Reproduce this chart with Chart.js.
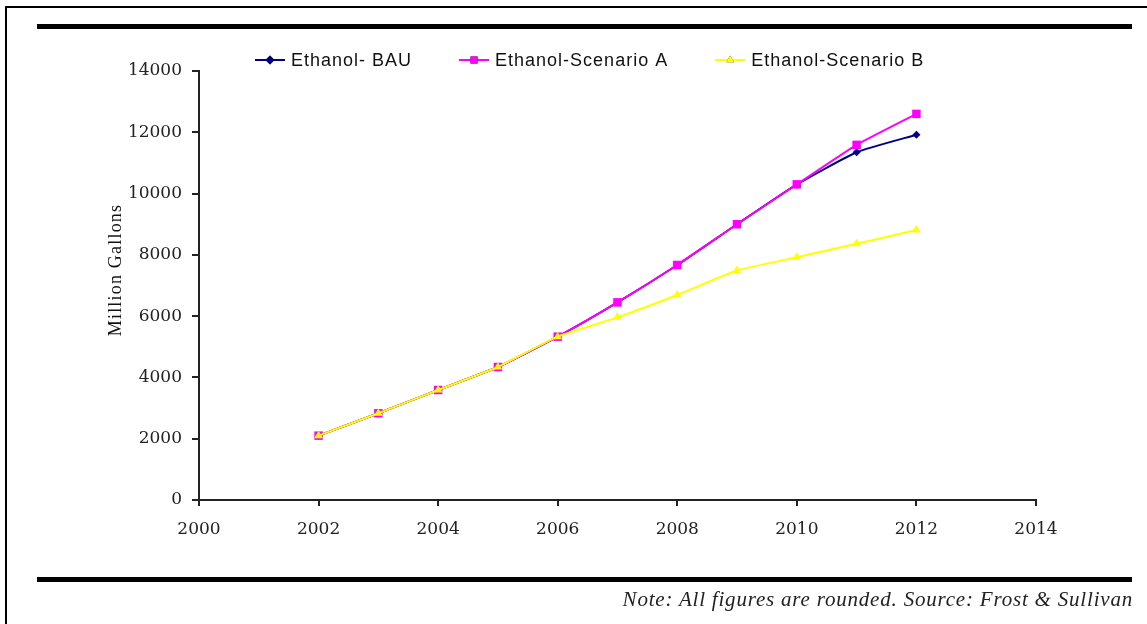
<!DOCTYPE html>
<html>
<head>
<meta charset="utf-8">
<script src="https://cdn.jsdelivr.net/npm/chart.js@4/dist/chart.umd.min.js"></script>
<style>
  html, body { margin: 0; padding: 0; background: #fff; }
  #wrap { position: relative; width: 1147px; height: 624px; overflow: hidden; }
  #frame { position: absolute; left: 5px; top: 6px; right: -10px; bottom: -10px;
           border-left: 2px solid #000; border-top: 2px solid #000; }
  .rule { position: absolute; left: 37px; width: 1095px; height: 5px; background: #000; }
  #note { position: absolute; right: 14px; top: 587px; font-family: "Liberation Serif", serif;
          font-style: italic; font-size: 21px; letter-spacing: 0.8px; line-height: 24px;
          color: #222; white-space: nowrap; }
  canvas { position: absolute; left: 0; top: 0; }
</style>
</head>
<body>
<div id="wrap">
  <div id="frame"></div>
  <div class="rule" style="top:24px"></div>
  <div class="rule" style="top:577px"></div>
  <canvas id="c" width="1147" height="624"></canvas>
  <div id="note">Note: All figures are rounded. Source: Frost &amp; Sullivan</div>
</div>
<script>
// Years and ethanol production (million gallons) under three outlooks
const years = [2002, 2003, 2004, 2005, 2006, 2007, 2008, 2009, 2010, 2011, 2012];
const bau       = [2100, 2830, 3590, 4340, 5330, 6450, 7670, 9000, 10300, 11350, 11920];
const scenarioA = [2100, 2830, 3590, 4340, 5330, 6450, 7670, 9000, 10300, 11590, 12600];
const scenarioB = [2100, 2830, 3590, 4340, 5330, 5960, 6690, 7490, 7920, 8360, 8810];

const seriesNames  = ["Ethanol- BAU", "Ethanol-Scenario A", "Ethanol-Scenario B"];
const seriesColors = ["#000080", "#FF00FF", "#FFFF00"];
const seriesPoints = ["rectRot", "rect", "triangle"];
const seriesRadius = [4, 6, 5];

const xTicks = { min: 2000, max: 2014, step: 2 };
const yTicks = { min: 0, max: 14000, step: 2000 };
const yTitle = "Million Gallons";

const toPoints = vals => vals.map((v, i) => ({ x: years[i], y: v }));
const seriesValues = [bau, scenarioA, scenarioB];

const datasets = seriesValues.map((vals, i) => ({
  label: seriesNames[i],
  data: toPoints(vals),
  borderColor: seriesColors[i],
  backgroundColor: seriesColors[i],
  pointStyle: seriesPoints[i],
  pointRadius: seriesRadius[i],
  pointHoverRadius: seriesRadius[i],
  pointBorderWidth: 0,
  borderWidth: 2,
  tension: 0.15,
  order: 3 - i
}));

// Legend row and rotated y-axis caption drawn on the canvas
const extras = {
  id: 'extras',
  afterDraw(chart) {
    const ctx = chart.ctx;
    ctx.save();
    ctx.font = '18px "Liberation Sans", Arial, sans-serif';
    ctx.letterSpacing = '1px';
    ctx.textBaseline = 'middle';
    let x = 255;
    const y = 60;
    seriesNames.forEach((name, i) => {
      ctx.strokeStyle = seriesColors[i];
      ctx.lineWidth = 2;
      ctx.beginPath();
      ctx.moveTo(x, y); ctx.lineTo(x + 30, y);
      ctx.stroke();
      Chart.helpers.drawPoint(ctx, {
        pointStyle: seriesPoints[i], radius: i === 1 ? 5 : 4.5, borderWidth: 0
      }, x + 15, y);
      ctx.fillStyle = seriesColors[i];
      ctx.fill();
      ctx.fillStyle = '#111';
      ctx.textAlign = 'left';
      ctx.fillText(name, x + 36, y + 1);
      x += 36 + ctx.measureText(name).width + 47;
    });
    ctx.translate(116, 270);
    ctx.rotate(-Math.PI / 2);
    ctx.textAlign = 'center';
    ctx.font = '18px "Liberation Serif", serif';
    ctx.letterSpacing = '1.2px';
    ctx.fillStyle = '#111';
    ctx.fillText(yTitle, 0, 0);
    ctx.restore();
  }
};

const tickFont = { family: '"DejaVu Serif", serif', size: 17 };

new Chart(document.getElementById('c'), {
  type: 'line',
  data: { datasets },
  plugins: [extras],
  options: {
    responsive: false,
    animation: false,
    layout: { padding: { top: 71, right: 111, left: 0, bottom: 0 } },
    plugins: { legend: { display: false }, tooltip: { enabled: false } },
    scales: {
      x: {
        type: 'linear',
        min: xTicks.min, max: xTicks.max,
        afterFit: s => { s.height = 124; },
        border: { color: '#222', width: 2 },
        grid: { display: true, drawOnChartArea: false, drawTicks: true, tickLength: 6, color: '#222', lineWidth: 2 },
        ticks: { stepSize: xTicks.step, color: '#222', font: tickFont, padding: 13,
                 callback: v => String(v), maxRotation: 0 }
      },
      y: {
        min: yTicks.min, max: yTicks.max,
        afterFit: s => { s.width = 199; },
        border: { color: '#222', width: 2 },
        grid: { display: true, drawOnChartArea: false, drawTicks: true, tickLength: 7, color: '#222', lineWidth: 2 },
        ticks: { stepSize: yTicks.step, color: '#222', font: tickFont, padding: 10,
                 callback: v => String(v) }
      }
    }
  }
});
</script>
</body>
</html>
